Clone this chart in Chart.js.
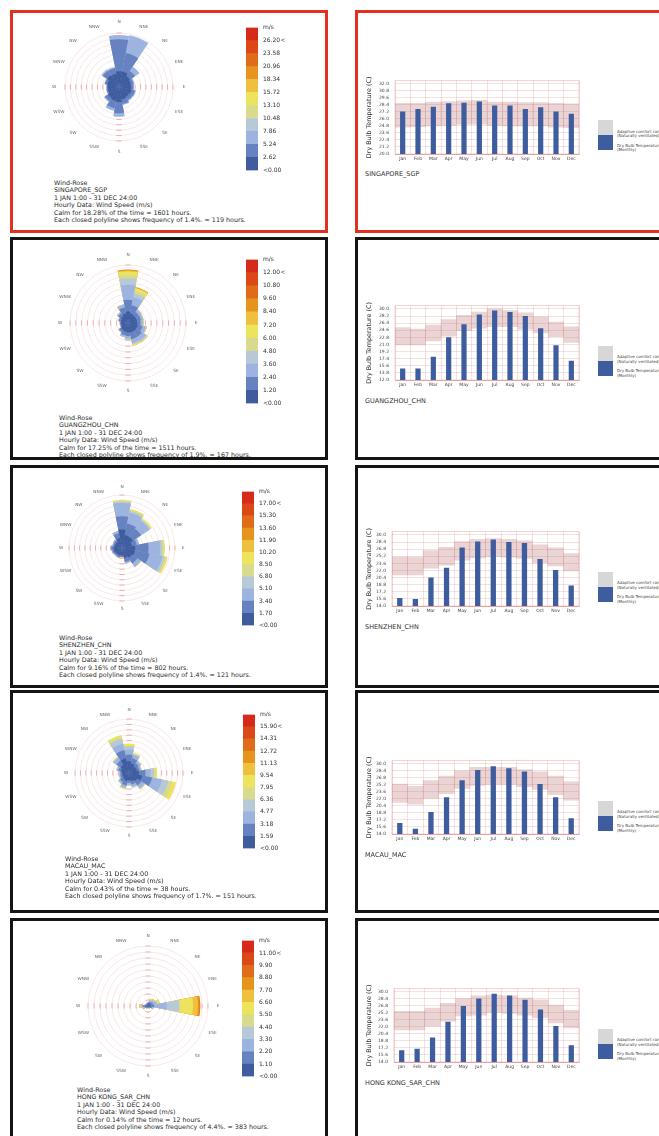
<!DOCTYPE html>
<html>
<head>
<meta charset="utf-8">
<script src="https://cdn.jsdelivr.net/npm/chart.js@4.4.1/dist/chart.umd.min.js"></script>
<style>
  body { margin: 0; background: #fff; width: 659px; height: 1136px; overflow: hidden; position: relative;
         font-family: "DejaVu Sans", Verdana, sans-serif; }
  .box { position: absolute; box-sizing: border-box; border: 3px solid #151515; }
  .box.sel { border-color: #e1301e; }
  canvas { position: absolute; }
  .info { position: absolute; font-size: 6.35px; line-height: 7.4px; color: #2b2b2b; white-space: nowrap; }
  .city { position: absolute; font-size: 6.5px; line-height: 8px; color: #333; white-space: nowrap; }
  .sw { position: absolute; width: 15px; height: 15px; }
  .swt { position: absolute; font-size: 4px; line-height: 4.4px; color: #444; white-space: nowrap; }
</style>
</head>
<body>
<script>
// ---- shared ----
const directions = ['N', 'NNE', 'NE', 'ENE', 'E', 'ESE', 'SE', 'SSE', 'S', 'SSW', 'SW', 'WSW', 'W', 'WNW', 'NW', 'NNW'];
const months = ['Jan', 'Feb', 'Mar', 'Apr', 'May', 'Jun', 'Jul', 'Aug', 'Sep', 'Oct', 'Nov', 'Dec'];
// speed bins, slowest first
const speedColors = ['#3e5c9e', '#6682c0', '#9db4e0', '#b7c9d6', '#d9db8c', '#eee35d', '#eec03d', '#e7941e', '#e06c19', '#dc4818', '#d62a1b'];

// ---- SINGAPORE ----
const sgpTemp = [27.3, 27.7, 28.1, 28.7, 28.8, 29.0, 28.3, 28.3, 27.7, 28.0, 27.3, 26.9];
const sgpComfortLow = [24.6, 24.7, 24.8, 24.9, 25.1, 25.1, 24.9, 24.8, 24.8, 24.8, 24.6, 24.5];
const sgpComfortHigh = [28.7, 28.7, 28.9, 29.0, 29.1, 29.2, 28.9, 28.9, 28.8, 28.8, 28.7, 28.6];
const sgpTicks = [20.0, 21.2, 22.4, 23.6, 24.8, 26.0, 27.2, 28.4, 29.6, 30.8, 32.0];
const sgpSpeeds = ['<0.00', '2.62', '5.24', '7.86', '10.48', '13.10', '15.72', '18.34', '20.96', '23.58', '26.20<', 'm/s'];
const sgpRing = 1.4;
const sgpCalm = 1.1;
const sgpWind = [
  [3.0, 3.0, 2.3, 2.0, 2.0, 2.2, 2.0, 2.2, 2.8, 2.6, 2.3, 1.8, 1.8, 2.0, 2.6, 2.4],
  [8.3, 4.9, 1.6, 0.7, 0.6, 0.9, 1.0, 1.2, 2.9, 1.9, 1.0, 0.4, 0.3, 0.6, 1.4, 1.5],
  [1.1, 4.7, 1.4, 0.3, 0.2, 0.3, 0.3, 0.3, 0.9, 0.7, 0.3, 0.1, 0.1, 0.2, 0.4, 0.3]
];
const sgpInfo = ['Wind-Rose', 'SINGAPORE_SGP', '1 JAN 1:00 - 31 DEC 24:00', 'Hourly Data: Wind Speed (m/s)',
  'Calm for 18.28% of the time = 1601 hours.', 'Each closed polyline shows frequency of 1.4%. = 119 hours.'];

// ---- GUANGZHOU ----
const gzTemp = [14.9, 14.9, 17.9, 22.8, 26.1, 28.6, 29.6, 29.2, 28.2, 25.1, 20.8, 16.9];
const gzComfortLow = [20.9, 20.9, 21.9, 23.1, 24.5, 25.1, 25.5, 25.5, 24.9, 23.9, 23.0, 21.5];
const gzComfortHigh = [25.3, 24.9, 25.9, 27.3, 28.4, 29.2, 30.0, 29.6, 29.0, 28.0, 26.7, 25.5];
const gzTicks = [12.0, 13.8, 15.6, 17.4, 19.2, 21.0, 22.8, 24.6, 26.4, 28.2, 30.0];
const gzSpeeds = ['<0.00', '1.20', '2.40', '3.60', '4.80', '6.00', '7.20', '8.40', '9.60', '10.80', '12.00<', 'm/s'];
const gzRing = 1.9;
const gzCalm = 1.5;
const gzWind = [
  [2.3, 1.7, 1.5, 1.5, 1.5, 1.7, 1.7, 1.7, 1.5, 1.4, 1.2, 0.7, 0.7, 0.9, 1.2, 1.7],
  [3.8, 2.7, 1.3, 1.3, 1.1, 1.6, 2.2, 2.2, 1.3, 1.2, 0.8, 0.4, 0.4, 0.7, 1.1, 2.0],
  [4.9, 2.7, 0.8, 0.7, 0.7, 1.1, 1.6, 1.3, 0.8, 0.5, 0.3, 0.1, 0.1, 0.2, 0.5, 0.9],
  [2.2, 1.3, 0.3, 0.2, 0.2, 0.2, 0.4, 0.5, 0.3, 0.2, 0, 0, 0, 0, 0, 0.2],
  [1.1, 0.9, 0, 0, 0, 0, 0, 0, 0, 0, 0, 0, 0, 0, 0, 0],
  [1.1, 0.8, 0, 0, 0.1, 0.2, 0.3, 0.3, 0, 0, 0, 0, 0, 0, 0, 0],
  [0.3, 0.2, 0, 0, 0, 0, 0, 0, 0, 0, 0, 0, 0, 0, 0, 0],
  [0.3, 0.2, 0, 0, 0, 0, 0, 0, 0, 0, 0, 0, 0, 0, 0, 0]
];
const gzInfo = ['Wind-Rose', 'GUANGZHOU_CHN', '1 JAN 1:00 - 31 DEC 24:00', 'Hourly Data: Wind Speed (m/s)',
  'Calm for 17.25% of the time = 1511 hours.', 'Each closed polyline shows frequency of 1.9%. = 167 hours.'];

// ---- SHENZHEN ----
const szTemp = [15.8, 15.6, 20.4, 22.6, 27.2, 28.5, 29.0, 28.4, 28.2, 24.6, 22.1, 18.6];
const szComfortLow = [21.0, 21.0, 22.5, 23.2, 24.3, 24.8, 25.1, 25.0, 24.7, 23.7, 23.0, 21.9];
const szComfortHigh = [25.0, 25.0, 26.5, 27.2, 28.5, 29.0, 29.2, 29.0, 28.7, 27.8, 27.1, 25.8];
const szTicks = [14.0, 15.6, 17.2, 18.8, 20.4, 22.0, 23.6, 25.2, 26.8, 28.4, 30.0];
const szSpeeds = ['<0.00', '1.70', '3.40', '5.10', '6.80', '8.50', '10.20', '11.90', '13.60', '15.30', '17.00<', 'm/s'];
const szRing = 1.4;
const szCalm = 0.9;
const szWind = [
  [4.0, 2.6, 2.6, 1.8, 2.6, 2.6, 2.2, 1.8, 1.1, 1.1, 1.1, 1.3, 1.3, 1.1, 1.1, 1.8],
  [3.5, 3.1, 2.6, 1.3, 3.5, 3.9, 1.8, 1.1, 0.4, 0.5, 0.4, 0.4, 0.6, 0.4, 0.5, 1.3],
  [3.5, 2.9, 2.6, 0.6, 3.1, 3.5, 1.1, 0.4, 0, 0.2, 0.2, 0.2, 0.3, 0.2, 0.3, 0.6],
  [0.4, 0.5, 0.4, 0, 0.6, 0.6, 0, 0, 0, 0, 0, 0, 0, 0, 0, 0],
  [0, 0.2, 0, 0, 0.3, 0.4, 0, 0, 0, 0, 0, 0, 0, 0, 0, 0],
  [0.4, 0.4, 0.4, 0, 0.3, 0.4, 0.2, 0, 0.3, 0, 0, 0, 0, 0, 0, 0]
];
const szInfo = ['Wind-Rose', 'SHENZHEN_CHN', '1 JAN 1:00 - 31 DEC 24:00', 'Hourly Data: Wind Speed (m/s)',
  'Calm for 9.16% of the time = 802 hours.', 'Each closed polyline shows frequency of 1.4%. = 121 hours.'];

// ---- MACAU ----
const macTemp = [16.5, 15.2, 19.0, 22.4, 26.3, 28.6, 29.5, 29.0, 28.3, 25.4, 22.4, 17.6];
const macComfortLow = [21.2, 20.8, 22.1, 23.2, 24.4, 25.1, 25.3, 25.3, 24.8, 24.2, 23.0, 21.7];
const macComfortHigh = [25.4, 24.9, 26.2, 27.2, 28.4, 29.2, 29.2, 29.2, 28.7, 28.2, 27.2, 25.9];
const macTicks = [14.0, 15.6, 17.2, 18.8, 20.4, 22.0, 23.6, 25.2, 26.8, 28.4, 30.0];
const macSpeeds = ['<0.00', '1.59', '3.18', '4.77', '6.36', '7.95', '9.54', '11.13', '12.72', '14.31', '15.90<', 'm/s'];
const macRing = 1.7;
const macCalm = 0.3;
const macWind = [
  [3.4, 2.8, 2.3, 2.3, 2.8, 3.9, 2.8, 2.3, 2.0, 2.3, 2.0, 1.8, 1.8, 2.3, 2.8, 4.4],
  [2.1, 1.6, 1.1, 0.8, 2.1, 3.2, 1.6, 1.1, 0.8, 1.4, 1.1, 0.7, 0.6, 0.8, 1.6, 2.6],
  [1.6, 1.1, 0.7, 0.5, 1.6, 3.2, 1.1, 0.7, 0.5, 0.7, 0.5, 0.3, 0.3, 0.5, 1.1, 2.1],
  [1.1, 0.3, 0.3, 0.2, 1.1, 2.1, 0.3, 0.3, 0.3, 0.3, 0.3, 0.2, 0.1, 0.2, 0.3, 1.6],
  [0, 0, 0, 0, 0.5, 1.3, 0, 0, 0, 0, 0, 0, 0, 0, 0, 0.5],
  [0.8, 0.4, 0, 0, 0.5, 1.1, 0.2, 0, 0, 0.4, 0, 0, 0, 0, 0.2, 0.7]
];
const macInfo = ['Wind-Rose', 'MACAU_MAC', '1 JAN 1:00 - 31 DEC 24:00', 'Hourly Data: Wind Speed (m/s)',
  'Calm for 0.43% of the time = 38 hours.', 'Each closed polyline shows frequency of 1.7%. = 151 hours.'];

// ---- HONG KONG ----
const hkTemp = [16.7, 17.0, 19.6, 23.2, 26.8, 28.5, 29.6, 29.2, 28.2, 26.0, 22.2, 17.8];
const hkComfortLow = [21.3, 21.3, 22.2, 23.3, 24.5, 24.7, 25.3, 25.1, 24.7, 24.1, 22.9, 21.8];
const hkComfortHigh = [25.6, 25.6, 26.3, 27.4, 28.5, 29.1, 29.3, 29.1, 28.6, 28.2, 27.0, 25.8];
const hkTicks = [14.0, 15.6, 17.2, 18.8, 20.4, 22.0, 23.6, 25.2, 26.8, 28.4, 30.0];
const hkSpeeds = ['<0.00', '1.10', '2.20', '3.30', '4.40', '5.50', '6.60', '7.70', '8.80', '9.90', '11.00<', 'm/s'];
const hkRing = 4.4;
const hkCalm = 0.1;
const hkWind = [
  [1.5, 2.0, 2.0, 2.0, 2.0, 2.0, 1.0, 0.8, 0.8, 0.8, 1.0, 1.5, 2.0, 1.2, 1.0, 1.2],
  [0.7, 1.0, 1.5, 1.7, 2.5, 1.0, 0.5, 0.4, 0.4, 0.4, 0.5, 1.0, 1.5, 0.7, 0.5, 0.7],
  [0.5, 1.0, 1.5, 2.5, 9.1, 0.7, 0.5, 0.3, 0.3, 0.3, 0.5, 0.7, 1.0, 0.5, 0.5, 0.5],
  [0.2, 0.5, 0.5, 0.7, 9.1, 0, 0, 0, 0, 0, 0, 0.5, 0.5, 0, 0, 0],
  [0, 0.2, 0.2, 0.5, 0.8, 0, 0, 0, 0, 0, 0, 0, 0.5, 0, 0, 0],
  [0, 0.7, 0.5, 1.2, 9.4, 0, 0, 0, 0, 0, 0, 0, 0.7, 0, 0, 0],
  [0, 0, 0, 0, 3.7, 0, 0, 0, 0, 0, 0, 0, 0, 0, 0, 0],
  [0, 0, 0, 0, 1.2, 0, 0, 0, 0, 0, 0, 0, 0, 0, 0, 0],
  [0, 0, 0, 0, 0.5, 0, 0, 0, 0, 0, 0, 0, 0, 0, 0, 0]
];
const hkInfo = ['Wind-Rose', 'HONG KONG_SAR_CHN', '1 JAN 1:00 - 31 DEC 24:00', 'Hourly Data: Wind Speed (m/s)',
  'Calm for 0.14% of the time = 12 hours.', 'Each closed polyline shows frequency of 4.4%. = 383 hours.'];

const cities = [
  { name: 'SINGAPORE_SGP', temp: sgpTemp, lo: sgpComfortLow, hi: sgpComfortHigh, ticks: sgpTicks, speeds: sgpSpeeds, ring: sgpRing, calm: sgpCalm, wind: sgpWind, info: sgpInfo },
  { name: 'GUANGZHOU_CHN', temp: gzTemp, lo: gzComfortLow, hi: gzComfortHigh, ticks: gzTicks, speeds: gzSpeeds, ring: gzRing, calm: gzCalm, wind: gzWind, info: gzInfo },
  { name: 'SHENZHEN_CHN', temp: szTemp, lo: szComfortLow, hi: szComfortHigh, ticks: szTicks, speeds: szSpeeds, ring: szRing, calm: szCalm, wind: szWind, info: szInfo },
  { name: 'MACAU_MAC', temp: macTemp, lo: macComfortLow, hi: macComfortHigh, ticks: macTicks, speeds: macSpeeds, ring: macRing, calm: macCalm, wind: macWind, info: macInfo },
  { name: 'HONG KONG_SAR_CHN', temp: hkTemp, lo: hkComfortLow, hi: hkComfortHigh, ticks: hkTicks, speeds: hkSpeeds, ring: hkRing, calm: hkCalm, wind: hkWind, info: hkInfo }
];

// page layout, one entry per row
const rows = [
  { top: 10,  h: 223, sel: true, rose: { cx: 119, cy: 87,   r: 54, lr: 65 }, key: { x: 246, y: 23,  h: 152 }, info: { x: 54, y: 179 },  plot: { l: 395, t: 78.3,  b: 153.7 } },
  { top: 237, h: 223, rose: { cx: 128, cy: 323,  r: 58, lr: 68 }, key: { x: 246, y: 255, h: 153 }, info: { x: 59, y: 414 },  plot: { l: 395, t: 303.7, b: 380.3 } },
  { top: 465, h: 223, rose: { cx: 122, cy: 548,  r: 53, lr: 61 }, key: { x: 242, y: 487, h: 143 }, info: { x: 59, y: 634 },  plot: { l: 392, t: 529.7, b: 606.3 } },
  { top: 690, h: 223, rose: { cx: 129, cy: 773,  r: 54, lr: 63 }, key: { x: 243, y: 710, h: 143 }, info: { x: 65, y: 855 },  plot: { l: 392, t: 758.7, b: 834.3 } },
  { top: 918, h: 230, rose: { cx: 148, cy: 1006, r: 60, lr: 70 }, key: { x: 242, y: 936, h: 145 }, info: { x: 77, y: 1086 }, plot: { l: 394, t: 986.7, b: 1062.3 } }
];
const plotRight = 578;

Chart.defaults.font.family = '"DejaVu Sans", Verdana, sans-serif';
Chart.defaults.animation = false;

function addEl(tag, cls, x, y, w, h) {
  const el = document.createElement(tag);
  if (cls) el.className = cls;
  el.style.left = x + 'px';
  el.style.top = y + 'px';
  if (w != null) el.style.width = w + 'px';
  if (h != null) el.style.height = h + 'px';
  document.body.appendChild(el);
  return el;
}

function makeCanvas(x, y, w, h) {
  const c = addEl('canvas', null, x, y);
  c.width = w;
  c.height = h;
  return c;
}

// direction names and the red marks on the N/E/S/W axes
const roseDecor = {
  id: 'roseDecor',
  beforeDatasetsDraw(chart) {
    const sc = chart.scales.r, ctx = chart.ctx;
    ctx.save();
    ctx.strokeStyle = 'rgba(222,80,80,0.5)';
    ctx.lineWidth = 0.8;
    sc.ticks.forEach((t, k) => {
      if (k === 0) return;
      const d = sc.getDistanceFromCenterForValue(t.value);
      [0, 4, 8, 12].forEach(i => {
        const a = sc.getIndexAngle(i) - Math.PI / 2 + Math.PI / 16;
        const half = 2.6 / d;
        ctx.beginPath();
        ctx.arc(sc.xCenter, sc.yCenter, d, a - half, a + half);
        ctx.stroke();
      });
    });
    ctx.restore();
  },
  afterDraw(chart, args, opts) {
    const sc = chart.scales.r, ctx = chart.ctx;
    ctx.save();
    ctx.font = '4.3px "DejaVu Sans"';
    ctx.fillStyle = '#666';
    ctx.textAlign = 'center';
    ctx.textBaseline = 'middle';
    chart.data.labels.forEach((lab, i) => {
      const p = sc.getPointPosition(i, opts.dist, Math.PI / 16);
      ctx.fillText(lab, p.x, p.y);
    });
    ctx.restore();
  }
};

const plotFrame = {
  id: 'plotFrame',
  beforeDatasetsDraw(chart) {
    const a = chart.chartArea, ctx = chart.ctx;
    ctx.save();
    ctx.strokeStyle = 'rgba(214,110,110,0.45)';
    ctx.lineWidth = 0.7;
    ctx.strokeRect(a.left, a.top, a.right - a.left, a.bottom - a.top);
    ctx.restore();
  }
};

function drawRose(city, lay) {
  // stack the speed bins outward from the calm circle
  let acc = directions.map(() => city.calm);
  const stacked = city.wind.map(bin => (acc = acc.map((v, i) => v + bin[i])));
  const ringTicks = Array.from({ length: 11 }, (_, i) => i * city.ring);
  const pad = lay.lr - lay.r + 10;
  const size = 2 * (lay.r + pad);
  const c = makeCanvas(lay.cx - size / 2, lay.cy - size / 2, size, size);
  new Chart(c, {
    type: 'polarArea',
    data: {
      labels: directions,
      datasets: stacked.map((d, k) => ({ data: d, backgroundColor: speedColors[k], borderWidth: 0 }))
    },
    options: {
      responsive: false,
      layout: { padding: pad },
      plugins: { legend: { display: false }, tooltip: { enabled: false }, roseDecor: { dist: lay.lr } },
      scales: {
        r: {
          min: 0,
          max: ringTicks[ringTicks.length - 1],
          startAngle: -11.25,
          afterBuildTicks: ax => { ax.ticks = ringTicks.map(v => ({ value: v })); },
          ticks: { display: false },
          grid: { circular: true, color: 'rgba(226,130,130,0.24)', lineWidth: 0.8 },
          angleLines: { display: false },
          pointLabels: { display: false }
        }
      }
    },
    plugins: [roseDecor]
  });
}

function drawKey(city, lay) {
  const labelW = 34;
  const c = makeCanvas(lay.x, lay.y - 4, 12 + labelW, lay.h + 8);
  new Chart(c, {
    type: 'bar',
    data: {
      labels: [''],
      datasets: speedColors.map(col => ({ data: [1], backgroundColor: col, barPercentage: 1, categoryPercentage: 1 }))
    },
    options: {
      responsive: false,
      layout: { padding: { top: 4, bottom: 4 } },
      plugins: { legend: { display: false }, tooltip: { enabled: false } },
      scales: {
        x: { display: false, stacked: true },
        y: {
          stacked: true, position: 'right', min: 0, max: speedColors.length,
          afterBuildTicks: ax => { ax.ticks = city.speeds.map((s, i) => ({ value: i })); },
          afterFit: ax => { ax.width = labelW; },
          ticks: { callback: v => city.speeds[v], font: { size: 6 }, color: '#333', padding: 5, autoSkip: false },
          grid: { display: false, drawTicks: false },
          border: { display: false }
        }
      }
    }
  });
}

function drawTemp(city, lay) {
  const left = 358;
  const areaTop = lay.t - 3.5;
  const xAxisH = 14;
  const c = makeCanvas(left, Math.round(areaTop) - 3, plotRight - left + 2, Math.round(lay.b - areaTop) + 3 + xAxisH);
  const first = city.ticks[0], last = city.ticks[city.ticks.length - 1];
  const extra = (lay.t - areaTop) / (lay.b - lay.t) * (last - first);
  new Chart(c, {
    type: 'bar',
    data: {
      labels: months,
      datasets: [
        { label: 'Dry Bulb Temperature (Monthly)', data: city.temp, backgroundColor: '#3e5d9f',
          barPercentage: 0.34, categoryPercentage: 1, grouped: false },
        { label: 'Adaptive comfort range (Naturally ventilated)', data: city.lo.map((v, i) => [v, city.hi[i]]),
          backgroundColor: 'rgba(190,120,120,0.32)', barPercentage: 1, categoryPercentage: 1, grouped: false }
      ]
    },
    options: {
      responsive: false,
      layout: { padding: { top: 3 + (areaTop - Math.round(areaTop)), right: 1 } },
      plugins: { legend: { display: false }, tooltip: { enabled: false } },
      scales: {
        x: {
          afterFit: ax => { ax.height = xAxisH; },
          ticks: { font: { size: 4.5 }, color: '#444', padding: 2, maxRotation: 0, autoSkip: false },
          grid: { color: 'rgba(214,110,110,0.35)', lineWidth: 0.6, drawTicks: false },
          border: { color: 'rgba(214,110,110,0.45)' }
        },
        y: {
          min: first, max: last + extra,
          afterBuildTicks: ax => { ax.ticks = city.ticks.map(v => ({ value: v })); },
          afterFit: ax => { ax.width = lay.l - left; },
          ticks: { callback: v => v.toFixed(1), font: { size: 4.5 }, color: '#444', padding: 6, autoSkip: false },
          grid: { color: 'rgba(214,110,110,0.35)', lineWidth: 0.6, drawTicks: false },
          border: { display: false },
          title: { display: true, text: 'Dry Bulb Temperature (C)', font: { size: 6.4 }, color: '#333', padding: { top: 8, bottom: 0 } }
        }
      }
    },
    plugins: [plotFrame]
  });
}

rows.forEach((lay, n) => {
  const city = cities[n];
  const cls = lay.sel ? 'box sel' : 'box';
  addEl('div', cls, 10, lay.top, 318, lay.h);
  addEl('div', cls, 355, lay.top, 330, lay.h);

  drawRose(city, lay.rose);
  drawKey(city, lay.key);
  const info = addEl('div', 'info', lay.info.x, lay.info.y);
  info.innerHTML = city.info.join('<br>');

  drawTemp(city, lay.plot);
  const city2 = addEl('div', 'city', 365, lay.plot.b + 16.5);
  city2.textContent = city.name;

  // legend of the temperature chart
  const sy = lay.plot.t + 42;
  addEl('div', 'sw', 598, sy, 15, 15).style.background = '#d7d7d7';
  addEl('div', 'sw', 598, sy + 15, 15, 15).style.background = '#3e5d9f';
  addEl('div', 'swt', 617, sy + 9.5).innerHTML = 'Adaptive comfort range<br>(Naturally ventilated)';
  addEl('div', 'swt', 617, sy + 23.5).innerHTML = 'Dry Bulb Temperature<br>(Monthly)';
});
</script>
</body>
</html>
